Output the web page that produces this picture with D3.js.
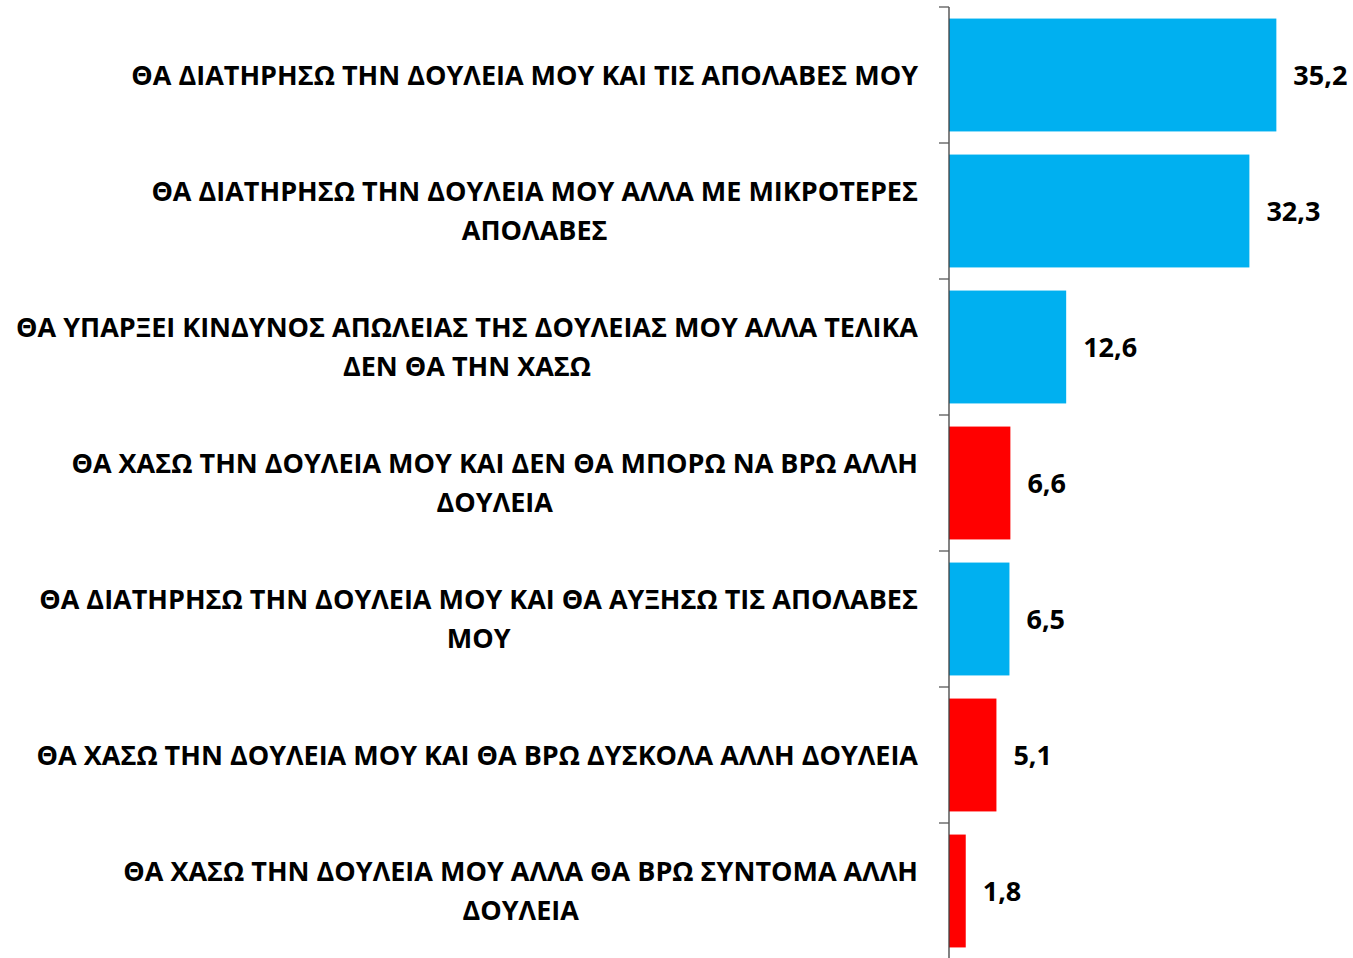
<!DOCTYPE html>
<html>
<head>
<meta charset="utf-8">
<script src="https://cdn.jsdelivr.net/npm/d3@7"></script>
<style>
  body { margin: 0; background: #fff; }
  text { font-family: "Open Sans", sans-serif; font-weight: bold; fill: #000; }
</style>
</head>
<body>
<div class="chart"></div>
<script>
// answers, top to bottom (line breaks as in the original)
const answers = [
    ["ΘΑ ΔΙΑΤΗΡΗΣΩ ΤΗΝ ΔΟΥΛΕΙΑ ΜΟΥ ΚΑΙ ΤΙΣ ΑΠΟΛΑΒΕΣ ΜΟΥ"],
    ["ΘΑ ΔΙΑΤΗΡΗΣΩ ΤΗΝ ΔΟΥΛΕΙΑ ΜΟΥ ΑΛΛΑ ΜΕ ΜΙΚΡΟΤΕΡΕΣ", "ΑΠΟΛΑΒΕΣ"],
    ["ΘΑ ΥΠΑΡΞΕΙ ΚΙΝΔΥΝΟΣ ΑΠΩΛΕΙΑΣ ΤΗΣ ΔΟΥΛΕΙΑΣ ΜΟΥ ΑΛΛΑ ΤΕΛΙΚΑ", "ΔΕΝ ΘΑ ΤΗΝ ΧΑΣΩ"],
    ["ΘΑ ΧΑΣΩ ΤΗΝ ΔΟΥΛΕΙΑ ΜΟΥ ΚΑΙ ΔΕΝ ΘΑ ΜΠΟΡΩ ΝΑ ΒΡΩ ΑΛΛΗ", "ΔΟΥΛΕΙΑ"],
    ["ΘΑ ΔΙΑΤΗΡΗΣΩ ΤΗΝ ΔΟΥΛΕΙΑ ΜΟΥ ΚΑΙ ΘΑ ΑΥΞΗΣΩ ΤΙΣ ΑΠΟΛΑΒΕΣ", "ΜΟΥ"],
    ["ΘΑ ΧΑΣΩ ΤΗΝ ΔΟΥΛΕΙΑ ΜΟΥ ΚΑΙ ΘΑ ΒΡΩ ΔΥΣΚΟΛΑ ΑΛΛΗ ΔΟΥΛΕΙΑ"],
    ["ΘΑ ΧΑΣΩ ΤΗΝ ΔΟΥΛΕΙΑ ΜΟΥ ΑΛΛΑ ΘΑ ΒΡΩ ΣΥΝΤΟΜΑ ΑΛΛΗ", "ΔΟΥΛΕΙΑ"]
];
const values = [35.2, 32.3, 12.6, 6.6, 6.5, 5.1, 1.8];
const outcome = ["keep", "keep", "keep", "lose", "keep", "lose", "lose"];

const width = 1353,
    height = 958;

const colour = d3.scaleOrdinal()
    .domain(["keep", "lose"])
    .range(["#00B0F0", "#FF0000"]);

const rows = values.map((v, i) => ({ id: i, lines: answers[i], value: v, outcome: outcome[i] }));

const svg = d3.select(".chart")
    .append("svg")
    .attr("width", width)
    .attr("height", height);

const axisX = 949;

const y = d3.scaleBand()
    .domain(rows.map(d => d.id))
    .range([7, 959])
    .paddingInner(0.17)
    .paddingOuter(0.085);

const x = d3.scaleLinear()
    .domain([0, 40])
    .range([axisX, axisX + 372]);

// bars
svg.selectAll(".bar")
    .data(rows)
    .enter().append("rect")
    .attr("class", "bar")
    .attr("x", x(0))
    .attr("y", d => y(d.id))
    .attr("width", d => x(d.value) - x(0))
    .attr("height", y.bandwidth())
    .style("fill", d => colour(d.outcome));

// vertical axis with ticks between categories
const step = y.step();
const boundaries = rows.map(d => y(d.id) - step * y.paddingOuter()).concat([y.range()[1]]);

svg.append("line")
    .attr("x1", axisX).attr("x2", axisX)
    .attr("y1", y.range()[0]).attr("y2", y.range()[1])
    .style("stroke", "#404040")
    .style("stroke-width", 1.3);

svg.selectAll(".tick")
    .data(boundaries)
    .enter().append("line")
    .attr("class", "tick")
    .attr("x1", axisX - 10).attr("x2", axisX)
    .attr("y1", d => d).attr("y2", d => d)
    .style("stroke", "#595959")
    .style("stroke-width", 1.3);

// value labels
svg.selectAll(".val")
    .data(rows)
    .enter().append("text")
    .attr("class", "val")
    .attr("x", d => x(d.value) + 17)
    .attr("y", d => y(d.id) + y.bandwidth() / 2)
    .attr("dy", "0.36em")
    .style("font-size", "27px")
    .text(d => d3.format(".1f")(d.value).replace(".", ","));

// category labels: block right-aligned, lines centred inside the block
const labelRight = 918,
    lineGap = 39;

const labels = svg.selectAll(".label")
    .data(rows)
    .enter().append("text")
    .attr("class", "label")
    .style("font-size", "27px")
    .attr("text-anchor", "middle");

labels.each(function (d) {
    const t = d3.select(this);
    const cy = y(d.id) + y.bandwidth() / 2;
    const n = d.lines.length;
    const spans = t.selectAll("tspan")
        .data(d.lines)
        .enter().append("tspan")
        .attr("y", (l, i) => cy + (i - (n - 1) / 2) * lineGap)
        .attr("dy", "0.36em")
        .text(l => l);
    let maxW = 0;
    spans.each(function () { maxW = Math.max(maxW, this.getComputedTextLength()); });
    spans.attr("x", labelRight - maxW / 2);
});
</script>
</body>
</html>
